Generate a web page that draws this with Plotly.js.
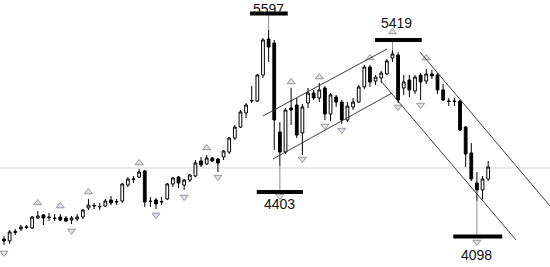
<!DOCTYPE html>
<html>
<head>
<meta charset="utf-8">
<script src="https://cdn.plot.ly/plotly-3.0.1.min.js"></script>
<style>
  html, body { margin: 0; padding: 0; background: #ffffff; }
  #chart { width: 550px; height: 267px; }
</style>
</head>
<body>
<div id="chart"></div>
<script>
// Bar numbers (one candle per period)
const bars = [0,1,2,3,4,5,6,7,8,9,10,11,12,13,14,15,16,17,18,19,20,21,22,23,24,25,26,27,28,29,
  30,31,32,33,34,35,36,37,38,39,40,41,42,43,44,45,46,47,48,49,50,51,52,53,54,55,56,57,58,59,
  60,61,62,63,64,65,66,67,68,69,70,71,72,73,74,75,76,77,78,79,80,81,82,83,84,85,86];

const open = [3764,3747,3821,3852,3865,3861,3948,3975,3957,3948,3957,3948,3931,3940,3957,4036,4053,4045,4053,4106,
  4088,4097,4237,4286,4307,4360,4097,4106,4088,4115,4246,4307,4237,4281,4316,4448,4421,4474,4465,4483,
  4526,4649,4745,4868,4973,4973,5201,5516,5481,4702,4526,4912,4938,4693,4956,5043,5000,5087,4859,5008,
  4964,4807,4921,4964,5096,5271,5148,5175,5210,5350,5376,5087,5157,5061,5201,5148,5210,5201,5070,4973,
  4973,4973,4745,4518,4255,4194,4290];

const high = [3791,3843,3852,3887,3887,3966,4010,3983,3992,3983,3983,3966,3966,3983,4027,4115,4080,4080,4115,4141,
  4115,4255,4307,4316,4378,4369,4132,4123,4132,4255,4307,4316,4290,4334,4456,4483,4500,4483,4474,4544,
  4658,4763,4894,4956,5105,5210,5525,5597,5508,4789,4912,5087,5000,4947,5087,5070,5131,5105,5043,5026,
  4982,4964,5000,5113,5289,5289,5201,5236,5341,5419,5402,5201,5201,5201,5218,5254,5245,5218,5122,5000,
  5000,4982,4754,4605,4351,4316,4448];

const low = [3712,3721,3799,3835,3852,3852,3940,3887,3922,3922,3922,3913,3896,3922,3940,4018,4027,4018,4045,4062,
  4062,4080,4220,4255,4299,4045,4045,4027,4062,4106,4220,4211,4194,4264,4307,4395,4413,4439,4351,4456,
  4509,4632,4737,4824,4956,4964,5175,5315,4544,4403,4509,4763,4649,4500,4912,4982,4964,4807,4798,4921,
  4772,4789,4894,4956,5078,5096,5113,5131,5201,5315,4956,5026,5008,5035,4982,5122,5166,5035,4973,4929,
  4929,4710,4395,4272,4098,4110,4272];

const close = [3747,3826,3830,3870,3870,3957,3966,3948,3953,3944,3931,3922,3948,3957,4018,4062,4058,4049,4097,4080,
  4093,4246,4290,4290,4351,4088,4093,4071,4093,4246,4299,4255,4281,4325,4430,4413,4474,4448,4430,4535,
  4649,4745,4877,4938,4978,5201,5508,5446,4807,4526,4894,4894,4675,4921,5043,5000,5070,4859,5026,4964,
  4807,4929,4964,5096,5271,5140,5183,5218,5324,5385,4982,5140,5070,5183,5140,5210,5192,5070,4982,4969,
  4969,4719,4509,4290,4194,4290,4395];

// Fractal markers: swing highs (arrow above) and swing lows (arrow below)
const upFractalBars = [6,10,15,24,36,51,56,65,69,75];
const upFractalLevels = [4080,4053,4176,4430,4562,5140,5183,5350,5578,5350];
const downFractalBars = [0,12,27,32,38,49,53,57,60,70,74,84];
const downFractalLevels = [3642,3835,3975,4132,4307,4141,4465,4754,4719,4921,4938,3738];

// Labelled turning points
const pivotLabels = ['5597','4403','5419','4098'];
const pivotValues = [5597,4403,5419,4098];
const pivotBars = [47,49,69,84];

// Trend channels: [startBar, startLevel, endBar, endLevel]
const risingUpper = [46.0, 4842, 68.03, 5429];
const risingLower = [47.78, 4465, 68.92, 5043];
const fallingUpper = [73.89, 5402, 96.98, 4053];
const fallingLower = [66.96, 5148, 90.94, 3756];

// Reference level drawn across the chart
const referenceLevel = 4386;

// Placement of each pivot tag: bar span, bar level, text position and anchor
const pivotTags = [
  { barFrom: 43.7, barTo: 50.4, barLevel: 5740, textBar: 46.9, textLevel: 5858, anchor: 'top' },
  { barFrom: 44.9, barTo: 53.1, barLevel: 4176, textBar: 49.0, textLevel: 4071, anchor: 'middle' },
  { barFrom: 65.9, barTo: 74.2, barLevel: 5508, textBar: 69.8, textLevel: 5657, anchor: 'middle' },
  { barFrom: 79.8, barTo: 88.5, barLevel: 3786, textBar: 84.0, textLevel: 3620, anchor: 'middle' }
];

const candles = {
  type: 'candlestick',
  x: bars, open: open, high: high, low: low, close: close,
  increasing: { line: { color: '#000000', width: 1 }, fillcolor: '#ffffff' },
  decreasing: { line: { color: '#000000', width: 1 }, fillcolor: '#000000' },
  whiskerwidth: 0,
  hoverinfo: 'skip',
  showlegend: false
};

const fractalStyle = { size: 7, color: 'rgba(222,224,230,0.95)',
                       line: { color: 'rgba(140,142,150,0.9)', width: 1 } };

const upMarks = {
  type: 'scatter', mode: 'markers',
  x: upFractalBars, y: upFractalLevels,
  marker: Object.assign({ symbol: 'triangle-up' }, fractalStyle),
  hoverinfo: 'skip', showlegend: false
};

const downMarks = {
  type: 'scatter', mode: 'markers',
  x: downFractalBars, y: downFractalLevels,
  marker: Object.assign({ symbol: 'triangle-down' }, fractalStyle),
  hoverinfo: 'skip', showlegend: false
};

function segment(p, color, width, layer) {
  return { type: 'line', xref: 'x', yref: 'y', x0: p[0], y0: p[1], x1: p[2], y1: p[3],
           line: { color: color, width: width }, layer: layer || 'above' };
}

const shapes = [
  { type: 'line', xref: 'paper', yref: 'y', x0: 0, x1: 1, y0: referenceLevel, y1: referenceLevel,
    line: { color: '#d4d4d4', width: 1 }, layer: 'below' },
  segment(risingUpper, '#2a2a2a', 0.9),
  segment(risingLower, '#2a2a2a', 0.9),
  segment(fallingUpper, '#2a2a2a', 0.9),
  segment(fallingLower, '#2a2a2a', 0.9)
];

const annotations = [];
pivotTags.forEach((t, k) => {
  shapes.push(segment([pivotBars[k], pivotValues[k], pivotBars[k], t.barLevel], '#8c8c8c', 1));
  shapes.push(segment([t.barFrom, t.barLevel, t.barTo, t.barLevel], '#000000', 4));
  annotations.push({
    x: t.textBar, y: t.textLevel, xref: 'x', yref: 'y',
    text: pivotLabels[k], showarrow: false,
    xanchor: 'center', yanchor: t.anchor, borderpad: 0,
    font: { family: 'Liberation Sans, Arial, sans-serif', size: 14, color: '#111111' }
  });
});

const layout = {
  width: 550, height: 267,
  margin: { l: 0, r: 0, t: 0, b: 0, pad: 0 },
  paper_bgcolor: '#ffffff', plot_bgcolor: '#ffffff',
  xaxis: { range: [-0.71, 96.98], visible: false, rangeslider: { visible: false }, fixedrange: true },
  yaxis: { range: [3519, 5858], visible: false, fixedrange: true },
  shapes: shapes,
  annotations: annotations,
  showlegend: false
};

Plotly.newPlot('chart', [candles, upMarks, downMarks], layout, { displayModeBar: false, staticPlot: true });
</script>
</body>
</html>
